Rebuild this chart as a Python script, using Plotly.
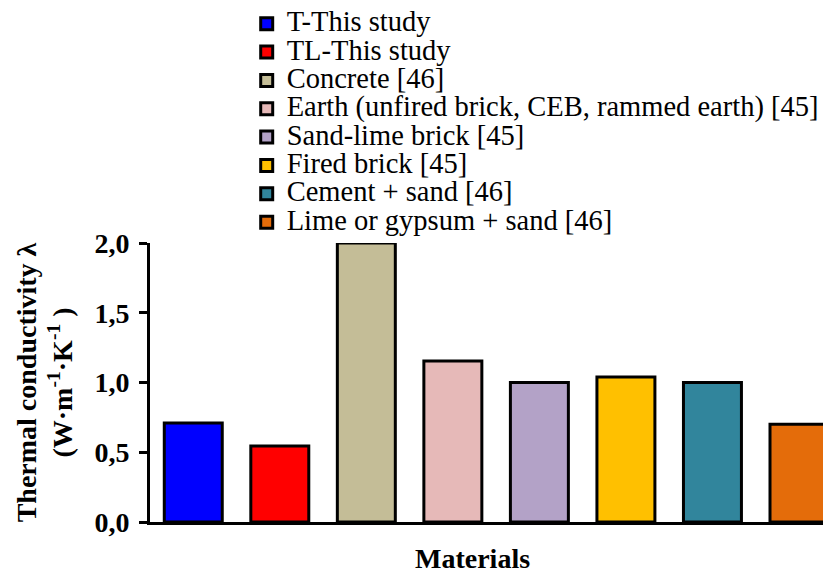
import plotly.graph_objects as go

materials = [
    "T-This study",
    "TL-This study",
    "Concrete [46]",
    "Earth (unfired brick, CEB, rammed earth) [45]",
    "Sand-lime brick [45]",
    "Fired brick [45]",
    "Cement + sand [46]",
    "Lime or gypsum + sand [46]",
]
conductivity = [0.71, 0.545, 2.0, 1.155, 1.0, 1.04, 1.0, 0.70]
colors = ["#0000FF", "#FF0000", "#C4BD97", "#E6B9B8", "#B3A2C7", "#FFC000", "#31859C", "#E46C0A"]

font_serif = "Liberation Serif, Times New Roman, serif"

fig = go.Figure()
for i, (name, val, col) in enumerate(zip(materials, conductivity, colors)):
    fig.add_trace(
        go.Bar(
            x=[i],
            y=[val],
            # larger text inside a tighter legend row
            name=f"<span style=\"font-size:28.5px;font-family:'Liberation Serif'\">{name}</span>",
            width=0.67,
            marker={"color": col, "line": {"color": "black", "width": 3}},
        )
    )

# the page body adds an 8px margin, so the figure is a little smaller than the window
fig.update_layout(
    width=823,
    height=564,
    plot_bgcolor="white",
    paper_bgcolor="white",
    separators=",.",
    font={"family": font_serif, "color": "black", "size": 28},
    margin={"l": 142, "r": 0, "t": 235, "b": 50, "autoexpand": False},
    showlegend=True,
    legend={
        "x": 0.142,
        "y": 1.0 + 238.5 / 279,
        "xanchor": "left",
        "yanchor": "top",
        "bgcolor": "rgba(0,0,0,0)",
        "font": {"family": font_serif, "size": 19.5},
        "tracegroupgap": 0,
    },
    xaxis={
        "range": [-0.5, 7.37],
        "showticklabels": False,
        "ticks": "",
        "showgrid": False,
        "zeroline": False,
        "showline": True,
        "linecolor": "black",
        "linewidth": 3,
    },
    yaxis={
        "range": [0, 2.0],
        "tickvals": [0, 0.5, 1.0, 1.5, 2.0],
        "tickformat": ".1f",
        "ticks": "outside",
        "ticklen": 8,
        "tickwidth": 3,
        "tickcolor": "black",
        "ticklabelstandoff": 4,
        "showgrid": False,
        "zeroline": False,
        "showline": True,
        "linecolor": "black",
        "linewidth": 3,
        "tickfont": {"family": font_serif, "size": 28, "color": "black", "weight": "bold"},
        "title": {
            "text": "<b>Thermal conductivity λ<br>(W·m<sup>-1</sup>·K<sup>-1</sup> )</b>",
            "font": {"family": font_serif, "size": 28, "color": "black"},
            "standoff": 14,
        },
    },
    annotations=[
        {
            "text": "<b>Materials</b>",
            "xref": "paper",
            "yref": "paper",
            "x": 0.473,
            "y": 0,
            "yshift": -36,
            "xanchor": "center",
            "yanchor": "middle",
            "showarrow": False,
            "font": {"family": font_serif, "size": 28, "color": "black"},
        }
    ],
)

fig.write_html("out.html")
